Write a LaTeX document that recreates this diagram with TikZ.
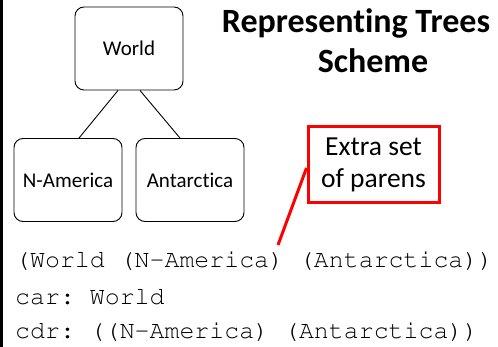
\documentclass[tikz,border=0pt]{standalone}
\usepackage[T1]{fontenc}
\usepackage{fontspec}
\setmainfont{Carlito}[Ligatures=NoCommon]
\newcommand\courierfam{\fontencoding{T1}\fontfamily{pcr}\selectfont\frenchspacing}
\begin{document}
\begin{tikzpicture}[x=1pt,y=-1pt,
  treebox/.style={draw=black, line width=0.9pt, rounded corners=9pt, minimum width=108pt, minimum height=83pt, inner sep=0pt, font=\fontsize{21}{24}\selectfont},
  calloutbox/.style={draw=red, line width=3pt, minimum width=131pt, minimum height=76pt, inner sep=0pt, align=center, font=\fontsize{27.5}{32}\selectfont},
  titletext/.style={inner sep=0pt, anchor=base, font=\bfseries\fontsize{34}{40}\selectfont},
  codetext/.style={inner sep=0pt, anchor=base west, text=black, font=\courierfam\fontsize{24.9}{30}\selectfont}]
\useasboundingbox (0,0) rectangle (498,347);
\fill[black] (0,0) rectangle (3,347);
\node[treebox] (w) at (129,48.5) {World};
\node[treebox] (na) at (68,180) {N-America};
\node[treebox] (an) at (190,180) {Antarctica};
\draw[line width=0.9pt] ([xshift=-11pt]w.south) -- ([xshift=11pt]na.north);
\draw[line width=0.9pt] ([xshift=11pt]w.south) -- ([xshift=-10pt]an.north);
\node[titletext] (t1) at (356,33) {Representing Trees};
\node[titletext] (t2) at (373,73) {Scheme};
\node[calloutbox] (cb) at (373.5,165) {Extra set\\of parens};
\coordinate (tip) at (278,245);
\draw[red, line width=3pt] ([yshift=-3pt]cb.west) -- (tip);
\node[codetext] (c1) at (15,268) {(World (N-America) (Antarctica))};
\node[codetext] (c2) at (15,305) {car: World};
\node[codetext] (c3) at (15,338) {cdr: ((N-America) (Antarctica))};
\end{tikzpicture}
\end{document}
